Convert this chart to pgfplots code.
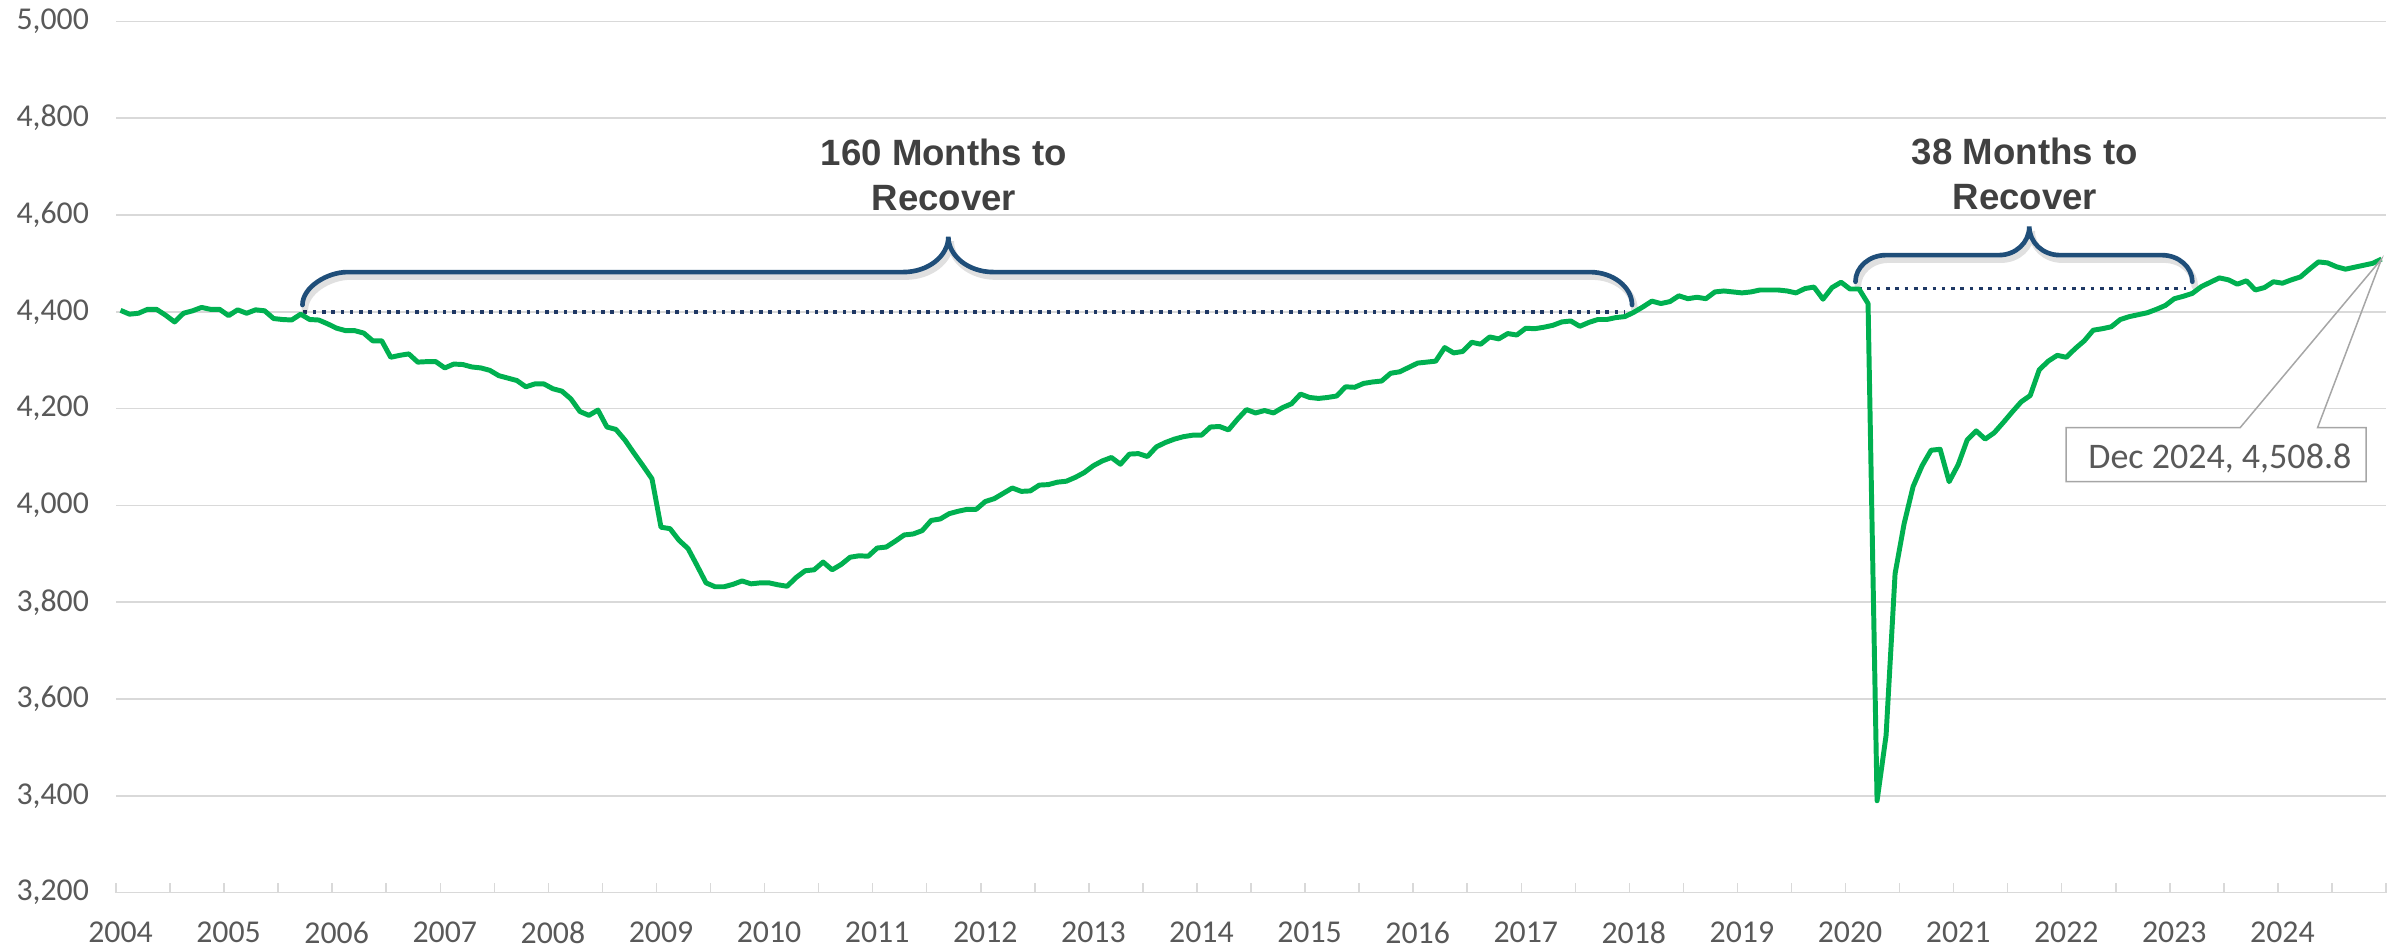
\documentclass[border=0pt]{standalone}
\usepackage{fontspec}
\setmainfont{Carlito}
\newfontfamily\annfont{Liberation Sans}
\usepackage{pgfplots}
\usepackage{pgfplotstable}
\pgfplotsset{compat=1.18}
\definecolor{gridgray}{HTML}{D9D9D9}
\definecolor{ticktext}{HTML}{595959}
\definecolor{linegreen}{HTML}{00B050}
\definecolor{navy}{HTML}{1F4E79}
\definecolor{dotnavy}{HTML}{1F3864}
\definecolor{anntext}{HTML}{404040}
\definecolor{boxgray}{HTML}{A6A6A6}

\pgfplotstableread{
m v
0 4403
1 4395
2 4397
3 4405
4 4405
5 4393
6 4379
7 4397
8 4402
9 4409
10 4405
11 4405
12 4392
13 4404
14 4397
15 4404
16 4402
17 4386
18 4384
19 4383
20 4395
21 4384
22 4383
23 4375
24 4366
25 4361
26 4361
27 4356
28 4340
29 4340
30 4306
31 4310
32 4313
33 4296
34 4297
35 4297
36 4284
37 4292
38 4291
39 4286
40 4284
41 4279
42 4268
43 4263
44 4258
45 4245
46 4251
47 4251
48 4241
49 4236
50 4220
51 4194
52 4186
53 4197
54 4162
55 4157
56 4135
57 4108
58 4082
59 4055
60 3955
61 3952
62 3928
63 3911
64 3876
65 3840
66 3832
67 3832
68 3837
69 3844
70 3838
71 3840
72 3840
73 3836
74 3833
75 3851
76 3865
77 3867
78 3883
79 3867
80 3878
81 3893
82 3896
83 3895
84 3912
85 3914
86 3926
87 3939
88 3941
89 3948
90 3969
91 3972
92 3983
93 3988
94 3992
95 3992
96 4008
97 4014
98 4025
99 4036
100 4029
101 4030
102 4042
103 4043
104 4048
105 4050
106 4058
107 4068
108 4082
109 4092
110 4099
111 4085
112 4106
113 4107
114 4101
115 4121
116 4130
117 4137
118 4142
119 4145
120 4145
121 4162
122 4163
123 4156
124 4178
125 4198
126 4191
127 4196
128 4191
129 4202
130 4210
131 4230
132 4223
133 4221
134 4223
135 4226
136 4245
137 4244
138 4252
139 4255
140 4257
141 4273
142 4276
143 4285
144 4294
145 4296
146 4298
147 4326
148 4315
149 4318
150 4337
151 4333
152 4348
153 4344
154 4355
155 4352
156 4366
157 4365
158 4368
159 4372
160 4379
161 4381
162 4370
163 4378
164 4384
165 4384
166 4388
167 4390
168 4399
169 4410
170 4422
171 4417
172 4421
173 4433
174 4427
175 4430
176 4427
177 4441
178 4443
179 4441
180 4439
181 4441
182 4445
183 4445
184 4445
185 4443
186 4439
187 4448
188 4451
189 4426
190 4450
191 4461
192 4447
193 4447
194 4417
195 3390
196 3525
197 3859
198 3962
199 4039
200 4082
201 4114
202 4116
203 4049
204 4084
205 4135
206 4154
207 4137
208 4150
209 4171
210 4193
211 4214
212 4227
213 4280
214 4298
215 4310
216 4306
217 4324
218 4340
219 4362
220 4365
221 4369
222 4384
223 4390
224 4394
225 4398
226 4405
227 4413
228 4427
229 4432
230 4438
231 4452
232 4461
233 4470
234 4466
235 4457
236 4464
237 4445
238 4450
239 4462
240 4459
241 4466
242 4472
243 4488
244 4503
245 4501
246 4493
247 4488
248 4492
249 4496
250 4500
251 4508.8
}\datatable

\begin{document}
\begin{tikzpicture}
\path[use as bounding box] (-38.67pt,-19.1pt) rectangle (762pt,297.57pt);
\begin{axis}[
  at={(0,0)}, anchor=south west,
  scale only axis, width=756.67pt, height=290.47pt,
  xmin=-0.5, xmax=251.5, ymin=3200, ymax=5000,
  ytick={3200,3400,...,5000},
  xtick={0,12,...,240},
  xticklabels={2004,2005,2006,2007,2008,2009,2010,2011,2012,2013,2014,2015,2016,2017,2018,2019,2020,2021,2022,2023,2024},
  minor xtick={-0.5,5.5,...,251.5},
  major tick length=0pt,
  minor tick length=3.33pt,
  tick align=inside,
  xtick pos=bottom, ytick pos=left,
  ymajorgrids,
  grid style={gridgray, line width=0.5pt},
  every minor tick/.append style={gridgray, line width=0.5pt},
  axis line style={draw=none},
  tick label style={font=\fontsize{10.6}{12}\selectfont, text=ticktext},
  /pgf/number format/assume math mode=true,
  yticklabel style={xshift=-5.5pt},
  xticklabel style={yshift=-6.3pt},
  clip=false,
]
% dotted reference lines
\addplot[dotnavy, line width=1.25pt, dash pattern=on 1.2pt off 1.9pt] coordinates {(20.3,4400) (167,4400)};
\addplot[dotnavy, line width=1.25pt, dash pattern=on 1.2pt off 1.9pt] coordinates {(192.9,4448) (229.3,4448)};

% braces (shadow then stroke)
\draw[black, opacity=0.12, line width=2.2pt, xshift=0.8pt, yshift=-1.5pt, line cap=round]
  (20.2,4414) .. controls (20.2,4451) and (22.95,4482) .. (25.2,4482)
  -- (86.9,4482) .. controls (89.65,4482) and (91.9,4515) .. (91.9,4555)
  .. controls (91.9,4515) and (94.15,4482) .. (96.9,4482)
  -- (163.1,4482) .. controls (165.7,4482) and (167.8,4451) .. (167.8,4414);
\draw[navy, line width=1.55pt, line cap=round]
  (20.2,4414) .. controls (20.2,4451) and (22.95,4482) .. (25.2,4482)
  -- (86.9,4482) .. controls (89.65,4482) and (91.9,4515) .. (91.9,4555)
  .. controls (91.9,4515) and (94.15,4482) .. (96.9,4482)
  -- (163.1,4482) .. controls (165.7,4482) and (167.8,4451) .. (167.8,4414);

\draw[black, opacity=0.12, line width=2.2pt, xshift=0.8pt, yshift=-1.5pt, line cap=round]
  (192.6,4462) .. controls (192.6,4492) and (194.1,4517) .. (196.0,4517)
  -- (208.5,4517) .. controls (210.4,4517) and (211.9,4543) .. (211.9,4576)
  .. controls (211.9,4543) and (213.4,4517) .. (215.3,4517)
  -- (226.6,4517) .. controls (228.5,4517) and (230.0,4492) .. (230.0,4462);
\draw[navy, line width=1.55pt, line cap=round]
  (192.6,4462) .. controls (192.6,4492) and (194.1,4517) .. (196.0,4517)
  -- (208.5,4517) .. controls (210.4,4517) and (211.9,4543) .. (211.9,4576)
  .. controls (211.9,4543) and (213.4,4517) .. (215.3,4517)
  -- (226.6,4517) .. controls (228.5,4517) and (230.0,4492) .. (230.0,4462);

% main series
\addplot[linegreen, line width=1.65pt, line join=round] table[x=m,y=v]{\datatable};

% annotation texts
\node[anchor=base, inner sep=0, font=\annfont\bfseries\fontsize{12.2}{14}\selectfont, text=anntext] at (91.4,4701.6) {160 Months to};
\node[anchor=base, inner sep=0, font=\annfont\bfseries\fontsize{12.2}{14}\selectfont, text=anntext] at (91.4,4608.7) {Recover};
\node[anchor=base, inner sep=0, font=\annfont\bfseries\fontsize{12.2}{14}\selectfont, text=anntext] at (211.4,4705) {38 Months to};
\node[anchor=base, inner sep=0, font=\annfont\bfseries\fontsize{12.2}{14}\selectfont, text=anntext] at (211.4,4612) {Recover};

% data callout
\fill[white] (216.0,4049) rectangle (249.3,4160.5);
\draw[boxgray, line width=0.5pt, line join=miter]
  (216.0,4049) -- (216.0,4160.5) -- (235.3,4160.5) -- (251,4508.8) -- (243.9,4160.5)
  -- (249.3,4160.5) -- (249.3,4049) -- cycle;
\node[anchor=base, inner sep=0, font=\fontsize{12}{14}\selectfont, text=ticktext] at (233.05,4077) {Dec 2024, 4,508.8};
\end{axis}
\end{tikzpicture}
\end{document}
